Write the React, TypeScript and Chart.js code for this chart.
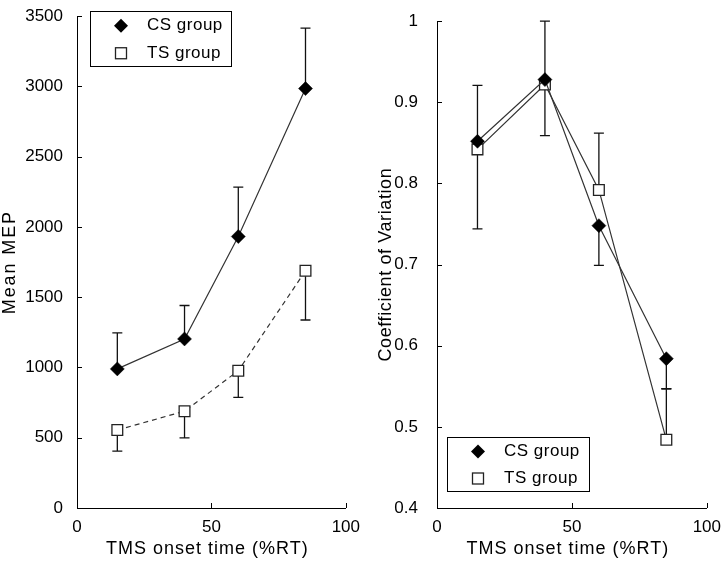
import React, { useEffect, useRef } from "react";
import { Chart, registerables } from "chart.js";

Chart.register(...registerables);

// ---------- data ----------
const timePoints = [15, 40, 60, 85];
const xTicks = [0, 50, 100];
const xTickLabels = ["0", "50", "100"];
const seriesLabels = ["CS group", "TS group"];
const xTitle = "TMS onset time (%RT)";

const meanMepCS = [990, 1203, 1932, 2985];
const meanMepTS = [555, 689, 977, 1688];
const meanMepCSErrEnd = [1246, 1441, 2283, 3415];
const meanMepTSErrEnd = [405, 499, 787, 1338];
const meanMepTicks = [0, 500, 1000, 1500, 2000, 2500, 3000, 3500];
const meanMepTickLabels = ["0", "500", "1000", "1500", "2000", "2500", "3000", "3500"];

const cvCS = [0.852, 0.928, 0.748, 0.584];
const cvTS = [0.842, 0.922, 0.792, 0.484];
const cvCSErrEnd = [0.921, 1.0, 0.699, 0.547];
const cvTSErrEnd = [0.744, 0.859, 0.862, 0.547];
const cvTicks = [0.4, 0.5, 0.6, 0.7, 0.8, 0.9, 1];
const cvTickLabels = ["0.4", "0.5", "0.6", "0.7", "0.8", "0.9", "1"];

const FONT = "'Liberation Sans', Arial, Helvetica, sans-serif";

// ---------- plugins ----------
const errorBarPlugin = {
  id: "errorBars",
  beforeDatasetsDraw(chart: any, _args: any, opts: any) {
    const ends: number[][] = opts.ends || [];
    const xs = chart.scales.x;
    const ys = chart.scales.y;
    const ctx = chart.ctx;
    ctx.save();
    ctx.strokeStyle = "#111";
    ctx.lineWidth = 1.3;
    chart.data.datasets.forEach((ds: any, i: number) => {
      const e = ends[i];
      if (!e) return;
      ds.data.forEach((p: any, j: number) => {
        const px = xs.getPixelForValue(p.x);
        const py = ys.getPixelForValue(p.y);
        const pe = ys.getPixelForValue(e[j]);
        ctx.beginPath();
        ctx.moveTo(px, py);
        ctx.lineTo(px, pe);
        ctx.moveTo(px - 5, pe);
        ctx.lineTo(px + 5, pe);
        ctx.stroke();
      });
    });
    ctx.restore();
  },
};

const inwardTicksPlugin = {
  id: "inwardTicks",
  afterDraw(chart: any) {
    const ctx = chart.ctx;
    const xs = chart.scales.x;
    const ys = chart.scales.y;
    const { left, bottom } = chart.chartArea;
    ctx.save();
    ctx.strokeStyle = "#000";
    ctx.lineWidth = 1;
    ctx.beginPath();
    xs.ticks.forEach((t: any) => {
      const px = Math.round(xs.getPixelForValue(t.value)) + 0.5;
      ctx.moveTo(px, bottom);
      ctx.lineTo(px, bottom - 5);
    });
    ys.ticks.forEach((t: any) => {
      const py = Math.round(ys.getPixelForValue(t.value)) + 0.5;
      ctx.moveTo(left, py);
      ctx.lineTo(left + 5, py);
    });
    ctx.stroke();
    ctx.restore();
  },
};

const axisTitlesPlugin = {
  id: "axisTitles",
  afterDraw(chart: any, _args: any, opts: any) {
    const ctx = chart.ctx;
    const { left, right, top, bottom } = chart.chartArea;
    ctx.save();
    ctx.fillStyle = "#000";
    ctx.font = `18px ${FONT}`;
    ctx.textAlign = "center";
    ctx.textBaseline = "middle";
    // x title
    (ctx as any).letterSpacing = `${opts.xSpacing}px`;
    ctx.fillText(opts.xText, (left + right) / 2 - 4, chart.height - 15);
    // y title
    (ctx as any).letterSpacing = `${opts.ySpacing}px`;
    ctx.translate(opts.yOffset, (top + bottom) / 2);
    ctx.rotate(-Math.PI / 2);
    ctx.fillText(opts.yText, 0, 0);
    ctx.restore();
  },
};

function drawDiamond(ctx: CanvasRenderingContext2D, x: number, y: number, r: number) {
  ctx.beginPath();
  ctx.moveTo(x, y - r);
  ctx.lineTo(x + r, y);
  ctx.lineTo(x, y + r);
  ctx.lineTo(x - r, y);
  ctx.closePath();
  ctx.fillStyle = "#000";
  ctx.fill();
}

function drawSquare(ctx: CanvasRenderingContext2D, x: number, y: number, s: number) {
  ctx.fillStyle = "#fff";
  ctx.strokeStyle = "#222";
  ctx.lineWidth = 1.3;
  ctx.fillRect(x - s / 2, y - s / 2, s, s);
  ctx.strokeRect(x - s / 2, y - s / 2, s, s);
}

const boxLegendPlugin = {
  id: "boxLegend",
  afterDraw(chart: any, _args: any, opts: any) {
    const { x, y, w, h } = opts;
    const ctx = chart.ctx;
    ctx.save();
    ctx.fillStyle = "#fff";
    ctx.fillRect(x, y, w, h);
    ctx.strokeStyle = "#000";
    ctx.lineWidth = 1;
    ctx.strokeRect(x + 0.5, y + 0.5, w, h);
    const rowH = h / 2;
    const labels = chart.data.datasets.map((d: any) => d.label);
    labels.forEach((lab: string, i: number) => {
      const cy = y + rowH * (i + 0.5) + 1;
      const mx = x + 31;
      if (i === 0) drawDiamond(ctx, mx, cy, 7);
      else drawSquare(ctx, mx, cy, 11);
      ctx.fillStyle = "#000";
      ctx.font = `17px ${FONT}`;
      (ctx as any).letterSpacing = "0.5px";
      ctx.textBaseline = "middle";
      ctx.textAlign = "left";
      ctx.fillText(lab, x + 57, cy);
    });
    ctx.restore();
  },
};

// ---------- chart config ----------
function makeConfig(p: {
  cs: number[];
  ts: number[];
  csErr: number[];
  tsErr: number[];
  yTicks: number[];
  yTickLabels: string[];
  yTitle: string;
  yMin: number;
  yMax: number;
  tsDash: number[];
  yAxisWidth: number;
  padRight: number;
  tickPad: number;
  yTitleOffset: number;
  yTitleSpacing: number;
  legend: { x: number; y: number; w: number; h: number };
}): any {
  return {
    type: "scatter",
    data: {
      datasets: [
        {
          label: seriesLabels[0],
          data: timePoints.map((t, i) => ({ x: t, y: p.cs[i] })),
          showLine: true,
          borderColor: "#333",
          borderWidth: 1.2,
          pointStyle: "rectRot",
          pointRadius: 7,
          pointBackgroundColor: "#000",
          pointBorderColor: "#000",
          pointBorderWidth: 0.5,
        },
        {
          label: seriesLabels[1],
          data: timePoints.map((t, i) => ({ x: t, y: p.ts[i] })),
          showLine: true,
          borderColor: "#333",
          borderWidth: 1.2,
          borderDash: p.tsDash,
          pointStyle: "rect",
          pointRadius: 7.6,
          pointBackgroundColor: "#fff",
          pointBorderColor: "#222",
          pointBorderWidth: 1.3,
        },
      ],
    },
    options: {
      animation: false,
      responsive: false,
      maintainAspectRatio: false,
      layout: { padding: { left: 0, right: p.padRight, top: 10, bottom: 0 } },
      plugins: {
        legend: { display: false },
        tooltip: { enabled: false },
        errorBars: { ends: [p.csErr, p.tsErr] },
        boxLegend: p.legend,
        axisTitles: {
          xText: xTitle,
          xSpacing: 1,
          yText: p.yTitle,
          ySpacing: p.yTitleSpacing,
          yOffset: p.yTitleOffset,
        },
      },
      scales: {
        x: {
          type: "linear",
          min: 0,
          max: 100,
          afterBuildTicks: (s: any) => {
            s.ticks = xTicks.map((v) => ({ value: v }));
          },
          afterFit: (s: any) => {
            s.height = 56;
          },
          grid: { display: false },
          border: { display: true, color: "#000", width: 1 },
          ticks: {
            color: "#000",
            font: { size: 17, family: FONT },
            padding: 1,
            maxRotation: 0,
            callback: (v: number) => xTickLabels[xTicks.indexOf(v)] ?? "",
          },
          title: { display: false },
        },
        y: {
          type: "linear",
          min: p.yMin,
          max: p.yMax,
          afterBuildTicks: (s: any) => {
            s.ticks = p.yTicks.map((v) => ({ value: v }));
          },
          afterFit: (s: any) => {
            s.width = p.yAxisWidth;
          },
          grid: { display: false },
          border: { display: true, color: "#000", width: 1 },
          ticks: {
            color: "#000",
            font: { size: 17, family: FONT },
            padding: p.tickPad,
            callback: (v: number) => {
              const i = p.yTicks.findIndex((t) => Math.abs(t - v) < 1e-9);
              return i >= 0 ? p.yTickLabels[i] : "";
            },
          },
          title: { display: false },
        },
      },
    },
    plugins: [errorBarPlugin, inwardTicksPlugin, boxLegendPlugin, axisTitlesPlugin],
  };
}

function Panel({ config }: { config: any }) {
  const ref = useRef<HTMLCanvasElement | null>(null);
  useEffect(() => {
    if (!ref.current) return;
    const chart = new Chart(ref.current, config);
    return () => chart.destroy();
  }, [config]);
  return <canvas ref={ref} width={361} height={564} style={{ display: "block", width: 361, height: 564 }} />;
}

const leftConfig = makeConfig({
  cs: meanMepCS,
  ts: meanMepTS,
  csErr: meanMepCSErrEnd,
  tsErr: meanMepTSErrEnd,
  yTicks: meanMepTicks,
  yTickLabels: meanMepTickLabels,
  yTitle: "Mean MEP",
  yMin: 0,
  yMax: 3500,
  tsDash: [5, 4],
  yAxisWidth: 77,
  padRight: 14,
  tickPad: 6,
  yTitleOffset: 10,
  yTitleSpacing: 1.9,
  legend: { x: 90, y: 11, w: 141, h: 55 },
});

const rightConfig = makeConfig({
  cs: cvCS,
  ts: cvTS,
  csErr: cvCSErrEnd,
  tsErr: cvTSErrEnd,
  yTicks: cvTicks,
  yTickLabels: cvTickLabels,
  yTitle: "Coefficient of Variation",
  yMin: 0.4,
  yMax: 1,
  tsDash: [],
  yAxisWidth: 76,
  padRight: 15,
  tickPad: 11,
  yTitleOffset: 25,
  yTitleSpacing: 0.6,
  legend: { x: 86, y: 437, w: 142, h: 54 },
});

export default function App() {
  return (
    <div
      style={{
        position: "fixed",
        left: 0,
        top: 0,
        width: 722,
        height: 564,
        background: "#fff",
        display: "flex",
        flexDirection: "row",
      }}
    >
      <Panel config={leftConfig} />
      <Panel config={rightConfig} />
    </div>
  );
}
